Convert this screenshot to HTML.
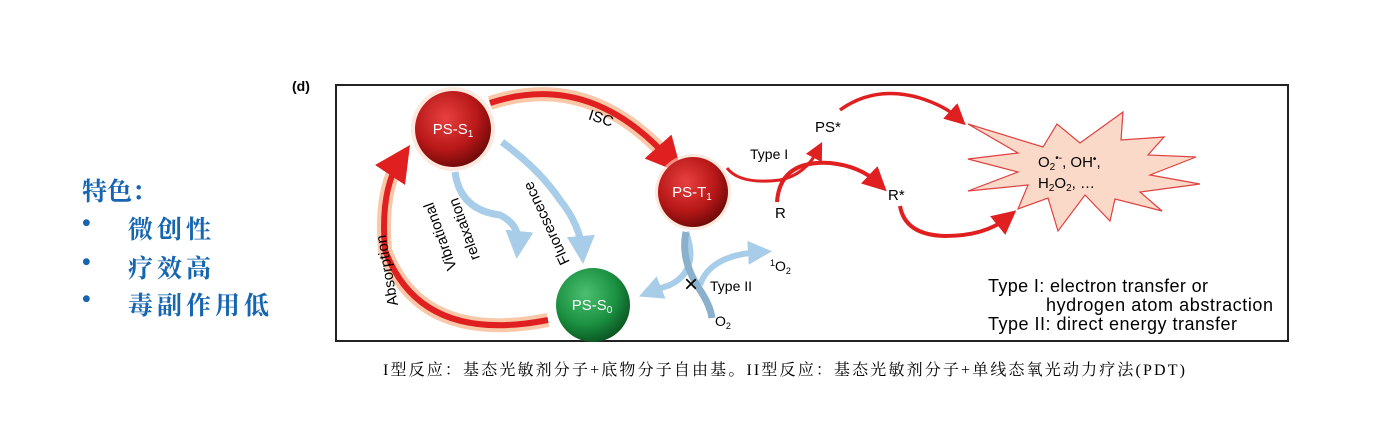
<!DOCTYPE html>
<html><head><meta charset="utf-8"><style>
body{margin:0;width:1376px;height:422px;background:#fff;overflow:hidden;position:relative;font-family:"Liberation Sans",sans-serif}
.cn{position:absolute;color:#1565b0;font-family:"Liberation Serif","Noto Serif CJK SC",serif;font-size:25px;font-weight:bold;white-space:nowrap}
</style></head><body>
<div style="position:absolute;left:0;top:0;width:276px;height:422px;overflow:hidden">
<div class="cn" style="left:82px;top:172px">特色：</div>
<div class="cn" style="left:82px;top:210px">•</div><div class="cn" style="left:128px;top:210px;letter-spacing:4px">微创性</div>
<div class="cn" style="left:82px;top:249px">•</div><div class="cn" style="left:128px;top:249px;letter-spacing:4px">疗效高</div>
<div class="cn" style="left:82px;top:286px">•</div><div class="cn" style="left:128px;top:286px;letter-spacing:4px">毒副作用低</div>
</div>
<svg width="1376" height="422" style="position:absolute;left:0;top:0" font-family="Liberation Sans, sans-serif">
<defs>
<radialGradient id="rg" cx="0.4" cy="0.35" r="0.7"><stop offset="0" stop-color="#e84040"/><stop offset="0.6" stop-color="#b81818"/><stop offset="1" stop-color="#6a0808"/></radialGradient>
<radialGradient id="gg" cx="0.4" cy="0.35" r="0.7"><stop offset="0" stop-color="#4cc070"/><stop offset="0.6" stop-color="#1a9040"/><stop offset="1" stop-color="#0a5020"/></radialGradient>
<marker id="ar" markerWidth="6" markerHeight="6" refX="3" refY="3" orient="auto" markerUnits="strokeWidth"><path d="M0,0L6,3L0,6z" fill="#e02020"/></marker>
<marker id="ab" markerWidth="4" markerHeight="4" refX="2" refY="2" orient="auto" markerUnits="strokeWidth"><path d="M0,0L4,2L0,4z" fill="#a8cde8"/></marker>
</defs>
<text x="292" y="91" font-size="14" font-weight="bold">(d)</text>
<rect x="336" y="85" width="952" height="256" fill="#fff" stroke="#222" stroke-width="2"/>
<g fill="none" stroke-linecap="butt">
<path d="M490,103 Q590,70 670,160" stroke="#f8c8a8" stroke-width="14"/>
<path d="M490,103 Q590,70 670,160" stroke="#e02020" stroke-width="6" marker-end="url(#ar)"/>
<path d="M548,320 Q420,345 385,250 Q380,190 400,160" stroke="#f8c8a8" stroke-width="14"/>
<path d="M548,320 Q420,345 385,250 Q380,190 400,160" stroke="#e02020" stroke-width="6" marker-end="url(#ar)"/>
<path d="M727,168 Q740,185 780,180 Q805,175 818,150" stroke="#e02020" stroke-width="3" marker-end="url(#ar)"/>
<path d="M777,202 Q780,160 830,163 Q860,166 878,183" stroke="#e02020" stroke-width="4" marker-end="url(#ar)"/>
<path d="M840,110 Q875,85 920,98 Q945,106 958,118" stroke="#e02020" stroke-width="3.5" marker-end="url(#ar)"/>
<path d="M900,206 Q905,235 945,236 Q985,236 1007,218" stroke="#e02020" stroke-width="4" marker-end="url(#ar)"/>
<path d="M455,172 Q460,210 500,215 Q520,225 518,245" stroke="#a8cde8" stroke-width="7" marker-end="url(#ab)"/>
<path d="M502,142 Q540,170 560,200 Q580,225 582,250" stroke="#a8cde8" stroke-width="7" marker-end="url(#ab)"/>
<path d="M686,232 Q700,270 670,285 Q655,290 650,292" stroke="#a8cde8" stroke-width="6" marker-end="url(#ab)"/>
<path d="M700,285 Q710,255 760,252" stroke="#a8cde8" stroke-width="6" marker-end="url(#ab)"/>
<path d="M686,232 Q680,260 700,290 Q710,305 712,318" stroke="#8ab0cc" stroke-width="7"/>
</g>
<circle cx="453" cy="129" r="42" fill="#fbd8c8" opacity="0.6"/>
<circle cx="453" cy="129" r="38" fill="url(#rg)"/>
<text x="453" y="134" font-size="15" fill="#fff" text-anchor="middle">PS-S<tspan font-size="10" dy="3">1</tspan></text>
<circle cx="693" cy="192" r="38" fill="#fbd8c8" opacity="0.6"/>
<circle cx="693" cy="192" r="35" fill="url(#rg)"/>
<text x="692" y="197" font-size="15" fill="#fff" text-anchor="middle">PS-T<tspan font-size="10" dy="3">1</tspan></text>
<circle cx="593" cy="305" r="37" fill="url(#gg)"/>
<text x="592" y="310" font-size="15" fill="#fff" text-anchor="middle">PS-S<tspan font-size="10" dy="3">0</tspan></text>
<polygon fill="#fbd9c8" stroke="#e04040" stroke-width="1.2" points="968,124 1043,147 1057,124 1080,143 1123,112 1121,140 1164,137 1148,155 1196,157 1150,175 1200,184 1140,192 1162,211 1115,199 1110,221 1085,195 1058,231 1048,198 1018,209 1028,185 968,191 1018,172 968,159 1018,153"/>
<text x="1038" y="167" font-size="15">O<tspan font-size="10" dy="3">2</tspan><tspan dy="-9" font-size="10">•-</tspan><tspan dy="6">, OH</tspan><tspan dy="-5" font-size="10">•</tspan><tspan dy="5">,</tspan></text>
<text x="1038" y="188" font-size="15">H<tspan font-size="10" dy="3">2</tspan><tspan dy="-3">O</tspan><tspan font-size="10" dy="3">2</tspan><tspan dy="-3">, …</tspan></text>
<text x="588" y="123" font-size="15" transform="rotate(18 600 120)">ISC</text>
<text font-size="15" transform="translate(398,305) rotate(-100)">Absorption</text>
<text font-size="15" transform="translate(457,268) rotate(-110)">Vibrational</text>
<text font-size="15" transform="translate(480,258) rotate(-110)">relaxation</text>
<text font-size="15" transform="translate(570,262) rotate(-115)">Fluorescence</text>
<text x="750" y="159" font-size="14">Type I</text>
<text x="815" y="132" font-size="15">PS*</text>
<text x="775" y="218" font-size="15">R</text>
<text x="888" y="200" font-size="15">R*</text>
<text x="770" y="271" font-size="14"><tspan font-size="9" dy="-5">1</tspan><tspan dy="5">O</tspan><tspan font-size="9" dy="3">2</tspan></text>
<text x="684" y="292" font-size="24">×</text>
<text x="710" y="291" font-size="14">Type II</text>
<text x="715" y="326" font-size="14">O<tspan font-size="9" dy="3">2</tspan></text>
<text x="988" y="292" font-size="18" textLength="220">Type I: electron transfer or</text>
<text x="1046" y="311" font-size="18" textLength="227">hydrogen atom abstraction</text>
<text x="988" y="330" font-size="18" textLength="249">Type II: direct energy transfer</text>
<text x="383" y="375" font-size="16" textLength="802" font-family="Liberation Serif, Noto Serif CJK SC, serif">I型反应：基态光敏剂分子+底物分子自由基。II型反应：基态光敏剂分子+单线态氧光动力疗法(PDT)</text>
</svg>
</body></html>
